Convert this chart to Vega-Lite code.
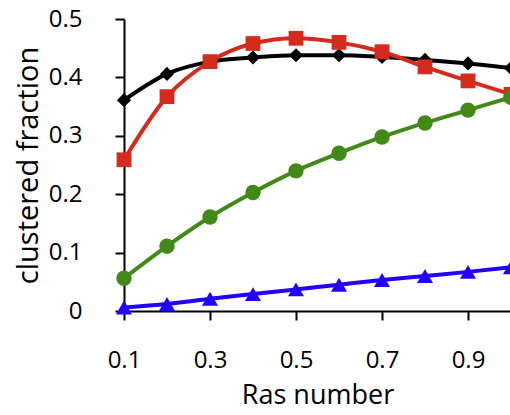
{
  "$schema": "https://vega.github.io/schema/vega-lite/v6.json",
  "width": 387,
  "height": 292,
  "autosize": "none",
  "padding": {"left": 124, "top": 19, "right": 0, "bottom": 104},
  "background": "white",
  "config": {
    "view": {"stroke": null},
    "font": "Open Sans",
    "axis": {
      "grid": false,
      "ticks": true,
      "domainColor": "black",
      "domainWidth": 2,
      "tickColor": "black",
      "tickWidth": 2,
      "tickSize": 9,
      "labelFlush": false,
      "labelOverlap": false,
      "labelFont": "Open Sans",
      "labelFontSize": 24,
      "labelColor": "black",
      "titleFont": "Open Sans",
      "titleFontSize": 26,
      "titleFontWeight": "normal",
      "titleColor": "black"
    }
  },
  "data": {
    "values": [
      {"ras": 0.1, "series": "A", "frac": 0.361},
      {"ras": 0.2, "series": "A", "frac": 0.406},
      {"ras": 0.3, "series": "A", "frac": 0.427},
      {"ras": 0.4, "series": "A", "frac": 0.434},
      {"ras": 0.5, "series": "A", "frac": 0.438},
      {"ras": 0.6, "series": "A", "frac": 0.438},
      {"ras": 0.7, "series": "A", "frac": 0.435},
      {"ras": 0.8, "series": "A", "frac": 0.430},
      {"ras": 0.9, "series": "A", "frac": 0.424},
      {"ras": 1.0, "series": "A", "frac": 0.416},
      {"ras": 0.1, "series": "B", "frac": 0.259},
      {"ras": 0.2, "series": "B", "frac": 0.367},
      {"ras": 0.3, "series": "B", "frac": 0.427},
      {"ras": 0.4, "series": "B", "frac": 0.458},
      {"ras": 0.5, "series": "B", "frac": 0.467},
      {"ras": 0.6, "series": "B", "frac": 0.460},
      {"ras": 0.7, "series": "B", "frac": 0.444},
      {"ras": 0.8, "series": "B", "frac": 0.418},
      {"ras": 0.9, "series": "B", "frac": 0.394},
      {"ras": 1.0, "series": "B", "frac": 0.371},
      {"ras": 0.1, "series": "C", "frac": 0.056},
      {"ras": 0.2, "series": "C", "frac": 0.111},
      {"ras": 0.3, "series": "C", "frac": 0.161},
      {"ras": 0.4, "series": "C", "frac": 0.203},
      {"ras": 0.5, "series": "C", "frac": 0.240},
      {"ras": 0.6, "series": "C", "frac": 0.270},
      {"ras": 0.7, "series": "C", "frac": 0.298},
      {"ras": 0.8, "series": "C", "frac": 0.322},
      {"ras": 0.9, "series": "C", "frac": 0.344},
      {"ras": 1.0, "series": "C", "frac": 0.366},
      {"ras": 0.1, "series": "D", "frac": 0.006},
      {"ras": 0.2, "series": "D", "frac": 0.012},
      {"ras": 0.3, "series": "D", "frac": 0.021},
      {"ras": 0.4, "series": "D", "frac": 0.029},
      {"ras": 0.5, "series": "D", "frac": 0.037},
      {"ras": 0.6, "series": "D", "frac": 0.045},
      {"ras": 0.7, "series": "D", "frac": 0.053},
      {"ras": 0.8, "series": "D", "frac": 0.060},
      {"ras": 0.9, "series": "D", "frac": 0.067},
      {"ras": 1.0, "series": "D", "frac": 0.075}
    ]
  },
  "encoding": {
    "x": {
      "field": "ras",
      "type": "quantitative",
      "title": "Ras number",
      "scale": {"domain": [0.1, 1.0], "nice": false, "zero": false},
      "axis": {
        "values": [0.1, 0.3, 0.5, 0.7, 0.9],
        "format": ".1f",
        "labelPadding": 28,
        "titlePadding": 10,
        "titleFontSize": 27
      }
    },
    "y": {
      "field": "frac",
      "type": "quantitative",
      "title": "clustered fraction",
      "scale": {"domain": [0, 0.5], "nice": false},
      "axis": {
        "values": [0, 0.1, 0.2, 0.3, 0.4, 0.5],
        "labelExpr": "datum.value == 0 ? '0' : format(datum.value, '.1f')",
        "labelPadding": 33,
        "titlePadding": 5,
        "titleFontSize": 29
      }
    },
    "color": {
      "field": "series",
      "type": "nominal",
      "legend": null,
      "scale": {
        "domain": ["A", "B", "C", "D"],
        "range": ["#000000", "#d42b1e", "#418a18", "#2200ff"]
      }
    }
  },
  "layer": [
    {
      "mark": {"type": "line", "strokeWidth": 4, "interpolate": "monotone"},
      "encoding": {"detail": {"field": "series"}}
    },
    {
      "mark": {"type": "point", "filled": true, "opacity": 1},
      "encoding": {
        "shape": {
          "field": "series",
          "type": "nominal",
          "legend": null,
          "scale": {
            "domain": ["A", "B", "C", "D"],
            "range": ["diamond", "square", "circle", "triangle-up"]
          }
        },
        "size": {
          "field": "series",
          "type": "nominal",
          "legend": null,
          "scale": {
            "domain": ["A", "B", "C", "D"],
            "range": [200, 256, 225, 230]
          }
        }
      }
    }
  ]
}
